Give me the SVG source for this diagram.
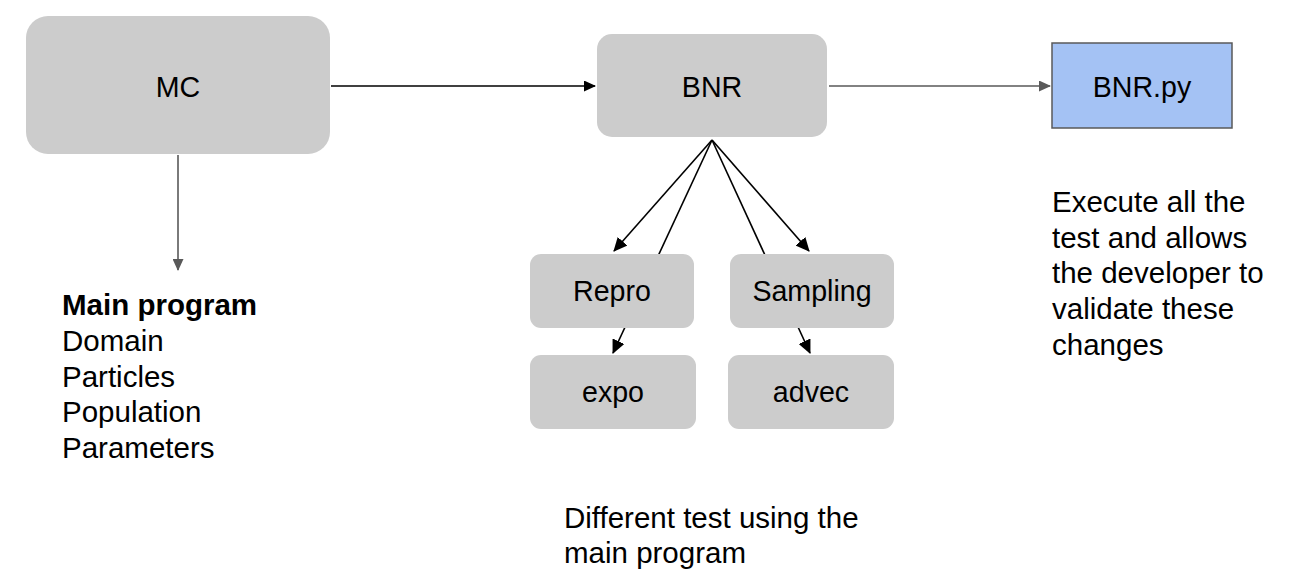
<svg xmlns="http://www.w3.org/2000/svg" width="1306" height="587" viewBox="0 0 1306 587">
<style>
.box{fill:#cccccc;}
.lbl{font-family:"Liberation Sans",Arial,sans-serif;font-size:28.6px;fill:#000;text-anchor:middle;}
.txt{font-family:"Liberation Sans",Arial,sans-serif;font-size:29.5px;fill:#000;}
.blk{stroke:#000;stroke-width:1.6;fill:none;}
.gry{stroke:#595959;stroke-width:1.6;fill:none;}
</style>
<defs>
<marker id="ab" markerWidth="12" markerHeight="11" refX="11" refY="5.5" orient="auto" markerUnits="userSpaceOnUse" viewBox="0 0 12 11">
<path d="M0,0 L12,5.5 L0,11 z" fill="#000"/>
</marker>
<marker id="ag" markerWidth="12" markerHeight="11" refX="11" refY="5.5" orient="auto" markerUnits="userSpaceOnUse" viewBox="0 0 12 11">
<path d="M0,0 L12,5.5 L0,11 z" fill="#595959"/>
</marker>
<marker id="as" markerWidth="14" markerHeight="13" refX="13" refY="6.5" orient="auto" markerUnits="userSpaceOnUse" viewBox="0 0 14 13">
<path d="M0,0 L14,6.5 L0,13 z" fill="#000"/>
</marker>
</defs>
<g id="connectors">
<line class="blk" x1="331" y1="86" x2="595" y2="86" marker-end="url(#ab)"/>
<line class="gry" x1="829" y1="86" x2="1050" y2="86" marker-end="url(#ag)"/>
<line class="gry" x1="178" y1="155" x2="178" y2="270" marker-end="url(#ag)"/>
<line class="blk" x1="712" y1="140" x2="614" y2="251" marker-end="url(#as)"/>
<line class="blk" x1="712" y1="140" x2="809" y2="251" marker-end="url(#as)"/>
<line class="blk" x1="712" y1="140" x2="613" y2="353" marker-end="url(#as)"/>
<line class="blk" x1="712" y1="140" x2="810" y2="353" marker-end="url(#as)"/>
</g>
<g id="mc"><rect class="box" x="26" y="16" width="304" height="138" rx="22"/><text class="lbl" x="178" y="97">MC</text></g>
<g id="bnr"><rect class="box" x="597" y="34" width="230" height="103" rx="15"/><text class="lbl" x="712" y="97">BNR</text></g>
<g id="bnrpy"><rect x="1052" y="43" width="180" height="85" fill="#a4c2f4" stroke="#595959" stroke-width="1.5"/><text class="lbl" x="1142" y="97">BNR.py</text></g>
<g id="repro"><rect class="box" x="530" y="254" width="164" height="74" rx="11"/><text class="lbl" x="612" y="301">Repro</text></g>
<g id="sampling"><rect class="box" x="730" y="254" width="164" height="74" rx="11"/><text class="lbl" x="812" y="301">Sampling</text></g>
<g id="expo"><rect class="box" x="530" y="355" width="166" height="74" rx="11"/><text class="lbl" x="613" y="402">expo</text></g>
<g id="advec"><rect class="box" x="728" y="355" width="166" height="74" rx="11"/><text class="lbl" x="811" y="402">advec</text></g>
<g id="main-program-text">
<text class="txt" x="62" y="315" font-weight="bold">Main program</text>
<text class="txt" x="62" y="351">Domain</text>
<text class="txt" x="62" y="386.5">Particles</text>
<text class="txt" x="62" y="422">Population</text>
<text class="txt" x="62" y="458">Parameters</text>
</g>
<g id="execute-text">
<text class="txt" x="1052" y="212">Execute all the</text>
<text class="txt" x="1052" y="247.5">test and allows</text>
<text class="txt" x="1052" y="283">the developer to</text>
<text class="txt" x="1052" y="319">validate these</text>
<text class="txt" x="1052" y="354.5">changes</text>
</g>
<g id="different-text">
<text class="txt" x="564" y="528">Different test using the</text>
<text class="txt" x="564" y="563">main program</text>
</g>
</svg>
